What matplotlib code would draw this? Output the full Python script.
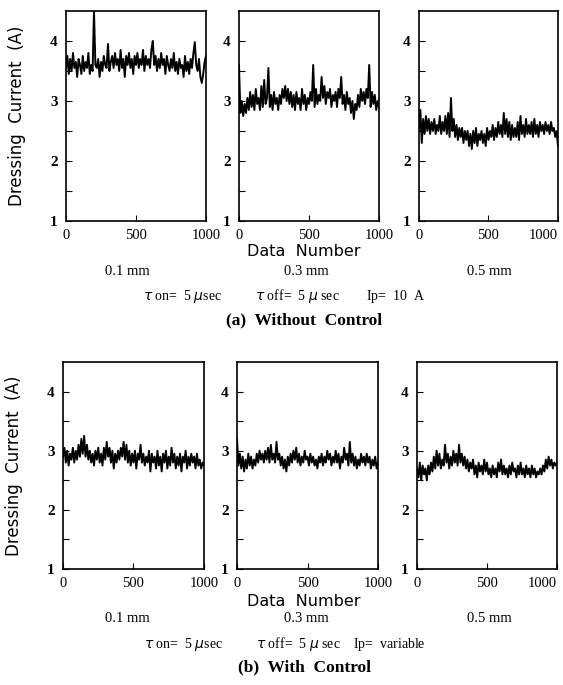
import numpy as np
import matplotlib.pyplot as plt

# Data number axis (sampled every 10 points)
data_number = np.arange(0, 1001, 10)

# Dressing current (A)
# (a) without control
a_01mm = [3.55, 3.75, 3.45, 3.7, 3.5, 3.8, 3.55, 3.65, 3.4, 3.7,
          3.6, 3.45, 3.75, 3.5, 3.65, 3.55, 3.8, 3.45, 3.6, 3.5,
          4.5, 3.6, 3.55, 3.7, 3.4, 3.65, 3.5, 3.75, 3.6, 3.55,
          3.95, 3.5, 3.65, 3.75, 3.55, 3.8, 3.6, 3.7, 3.5, 3.85,
          3.55, 3.7, 3.4, 3.75, 3.6, 3.8, 3.55, 3.7, 3.45, 3.75,
          3.6, 3.8, 3.55, 3.7, 3.6, 3.85, 3.5, 3.75, 3.6, 3.7,
          3.55, 3.85, 4.0, 3.6, 3.75, 3.5, 3.7, 3.55, 3.8, 3.6,
          3.7, 3.45, 3.75, 3.6, 3.5, 3.7, 3.55, 3.8, 3.5, 3.65,
          3.45, 3.7, 3.55, 3.6, 3.4, 3.75, 3.5, 3.65, 3.45, 3.7,
          3.55, 3.8, 3.98, 3.6, 3.5, 3.7, 3.4, 3.3, 3.45, 3.65, 3.75]
a_03mm = [3.6, 2.8, 3.0, 2.75, 2.95, 2.8, 3.05, 2.85, 3.15, 2.9,
          3.1, 2.85, 3.2, 2.95, 3.05, 2.85, 3.25, 2.9, 3.35, 2.95,
          3.05, 3.55, 2.9, 3.1, 2.85, 3.15, 2.95, 3.05, 2.85, 3.1,
          2.95, 3.2, 3.05, 3.25, 3.0, 3.2, 2.95, 3.15, 2.9, 3.1,
          2.85, 3.15, 2.95, 3.05, 2.85, 3.2, 2.95, 3.1, 2.85, 3.05,
          2.95, 3.15, 3.0, 3.6, 2.9, 3.2, 2.95, 3.1, 3.0, 3.4,
          3.05, 3.25, 2.95, 3.15, 3.05, 3.2, 2.9, 3.1, 3.0, 3.15,
          2.9, 3.2, 3.05, 3.4, 2.95, 3.1, 2.85, 3.15, 2.95, 3.05,
          2.8, 3.0, 2.7, 2.95, 2.85, 3.1, 2.9, 3.2, 3.0, 3.15,
          2.95, 3.2, 3.05, 3.6, 2.9, 3.15, 2.95, 3.1, 2.85, 3.0, 2.9]
a_05mm = [2.5, 2.85, 2.3, 2.7, 2.45, 2.75, 2.5, 2.7, 2.45, 2.65,
          2.5, 2.7, 2.45, 2.6, 2.5, 2.75, 2.45, 2.65, 2.5, 2.75,
          2.45, 2.8, 2.4, 3.05, 2.5, 2.7, 2.4, 2.6, 2.35, 2.55,
          2.4, 2.55, 2.3, 2.5, 2.35, 2.5, 2.25, 2.45, 2.2, 2.5,
          2.3, 2.55, 2.25, 2.45, 2.35, 2.5, 2.3, 2.45, 2.25, 2.55,
          2.35, 2.5, 2.4, 2.6, 2.35, 2.55, 2.4, 2.65, 2.45, 2.6,
          2.4, 2.8, 2.45, 2.7, 2.4, 2.65, 2.35, 2.6, 2.4, 2.55,
          2.4, 2.65, 2.35, 2.75, 2.45, 2.6, 2.4, 2.7, 2.45, 2.6,
          2.45, 2.65, 2.4, 2.7, 2.45, 2.6, 2.4, 2.65, 2.5, 2.6,
          2.45, 2.65, 2.5, 2.6, 2.45, 2.65, 2.5, 2.55, 2.4, 2.5, 2.25]

# (b) with control
b_01mm = [2.9, 3.05, 2.8, 3.0, 2.75, 2.95, 2.85, 3.05, 2.8, 3.0,
          2.85, 3.1, 2.9, 3.2, 2.95, 3.25, 2.9, 3.1, 2.85, 3.0,
          2.8, 2.95, 2.75, 3.0, 2.85, 3.05, 2.8, 2.95, 2.75, 3.05,
          2.85, 3.15, 2.9, 3.05, 2.8, 3.0, 2.7, 2.95, 2.8, 3.0,
          2.85, 3.05, 2.9, 3.15, 2.85, 3.1, 2.8, 3.0, 2.75, 2.95,
          2.8, 3.0, 2.7, 2.95, 2.85, 3.1, 2.8, 2.95, 2.75, 2.9,
          2.8, 3.0, 2.65, 2.95, 2.8, 2.9, 2.7, 3.0, 2.75, 2.9,
          2.65, 2.95, 2.8, 3.0, 2.7, 2.9, 2.75, 3.05, 2.8, 2.95,
          2.7, 2.9, 2.75, 2.95, 2.65, 2.9, 2.8, 3.0, 2.7, 2.9,
          2.75, 2.95, 2.8, 2.9, 2.7, 2.95, 2.75, 2.85, 2.7, 2.8, 2.75]
b_03mm = [3.2, 2.75, 2.95, 2.7, 2.9, 2.65, 2.85, 2.7, 2.95, 2.75,
          2.9, 2.7, 2.85, 2.75, 2.95, 2.8, 3.0, 2.85, 2.95, 2.8,
          3.0, 2.85, 3.05, 2.8, 3.1, 2.85, 2.95, 2.8, 3.15, 2.85,
          2.95, 2.75, 2.9, 2.7, 2.85, 2.65, 2.9, 2.75, 2.95, 2.8,
          3.0, 2.85, 3.05, 2.8, 2.95, 2.75, 2.9, 2.8, 3.0, 2.85,
          2.9, 2.75, 2.95, 2.8, 2.9, 2.75, 2.85, 2.7, 2.9, 2.8,
          2.95, 2.75, 2.9, 2.8, 3.0, 2.85, 2.95, 2.75, 2.9, 2.8,
          3.0, 2.8, 2.95, 2.7, 2.9, 2.8, 3.05, 2.85, 2.95, 2.75,
          3.15, 2.8, 2.95, 2.75, 2.9, 2.7, 2.85, 2.75, 2.95, 2.8,
          2.9, 2.75, 2.95, 2.8, 2.9, 2.7, 2.85, 2.75, 2.9, 2.7, 2.8]
b_05mm = [2.7, 2.55, 2.8, 2.5, 2.75, 2.6, 2.7, 2.5, 2.75, 2.6,
          2.8, 2.65, 2.9, 2.7, 3.0, 2.75, 2.95, 2.7, 2.85, 2.75,
          3.1, 2.8, 2.95, 2.7, 2.9, 2.75, 3.0, 2.8, 2.95, 2.75,
          3.1, 2.8, 2.95, 2.75, 2.9, 2.7, 2.85, 2.65, 2.8, 2.7,
          2.85, 2.6, 2.75, 2.55, 2.8, 2.65, 2.75, 2.6, 2.85, 2.65,
          2.8, 2.6, 2.7, 2.55, 2.75, 2.6, 2.7, 2.55, 2.8, 2.65,
          2.85, 2.6, 2.75, 2.6, 2.7, 2.55, 2.75, 2.6, 2.8, 2.65,
          2.7, 2.55, 2.75, 2.6, 2.8, 2.6, 2.7, 2.55, 2.75, 2.6,
          2.7, 2.55, 2.75, 2.6, 2.7, 2.55, 2.65, 2.6, 2.7, 2.6,
          2.75, 2.65, 2.85, 2.7, 2.9, 2.75, 2.85, 2.7, 2.8, 2.75, 2.8]

gaps = ["0.1 mm", "0.3 mm", "0.5 mm"]
rows = [
    dict(series=[a_01mm, a_03mm, a_05mm],
         cond=r"$\it{\tau}$ on=  5 $\mu$sec          $\it{\tau}$ off=  5 $\mu$ sec        Ip=  10  A",
         title="(a)  Without  Control"),
    dict(series=[b_01mm, b_03mm, b_05mm],
         cond=r"$\it{\tau}$ on=  5 $\mu$sec          $\it{\tau}$ off=  5 $\mu$ sec    Ip=  variable",
         title="(b)  With  Control"),
]

# axes boxes in figure fraction [left, bottom, width, height]
boxes = [
    [[0.1172, 0.6774, 0.2487, 0.3066], [0.4245, 0.6774, 0.2487, 0.3066], [0.7442, 0.6774, 0.2469, 0.3066]],
    [[0.1119, 0.1693, 0.2504, 0.3022], [0.4210, 0.1693, 0.2504, 0.3022], [0.7407, 0.1693, 0.2487, 0.3022]],
]
# text rows: data-number label, gap labels, condition line, caption
text_y = [(0.633, 0.603, 0.568, 0.533), (0.1226, 0.0964, 0.0599, 0.0262)]
label_x = [0.227, 0.545, 0.870]

serif = "Liberation Serif"
fig = plt.figure(figsize=(5.63, 6.85), dpi=100)

for r, row in enumerate(rows):
    for c, vals in enumerate(row["series"]):
        ax = fig.add_axes(boxes[r][c])
        ax.plot(data_number, vals, color="black", lw=1.4)
        ax.set_xlim(0, 1000)
        ax.set_ylim(1, 4.5)
        ax.set_xticks([0, 500, 1000])
        ax.set_yticks([1, 1.5, 2, 2.5, 3, 3.5, 4])
        ax.set_yticklabels(["1", "", "2", "", "3", "", "4"])
        ax.tick_params(direction="in", length=4, width=0.8, pad=6)
        for lab in ax.get_yticklabels():
            lab.set_fontfamily(serif)
            lab.set_fontweight("bold")
            lab.set_fontsize(11)
        for lab in ax.get_xticklabels():
            lab.set_fontfamily(serif)
            lab.set_fontsize(10.5)
        if c == 2:
            # last label pulled inside the figure edge
            ax.get_xticklabels()[-1].set_horizontalalignment("right")
        for s in ax.spines.values():
            s.set_linewidth(1.2)
        if c == 0:
            ax.set_ylabel("Dressing  Current  (A)", fontsize=12, labelpad=17)
        fig.text(label_x[c], text_y[r][1], gaps[c], ha="center", va="center",
                 family=serif, fontsize=10.5)

    fig.text(0.54, text_y[r][0], "Data  Number", ha="center", va="center",
             fontsize=11.5)
    fig.text(0.505, text_y[r][2], row["cond"], ha="center", va="center",
             family=serif, fontsize=10)
    fig.text(0.54, text_y[r][3], row["title"], ha="center", va="center",
             family=serif, fontweight="bold", fontsize=12.5)

fig.savefig("out.png", dpi=100)
